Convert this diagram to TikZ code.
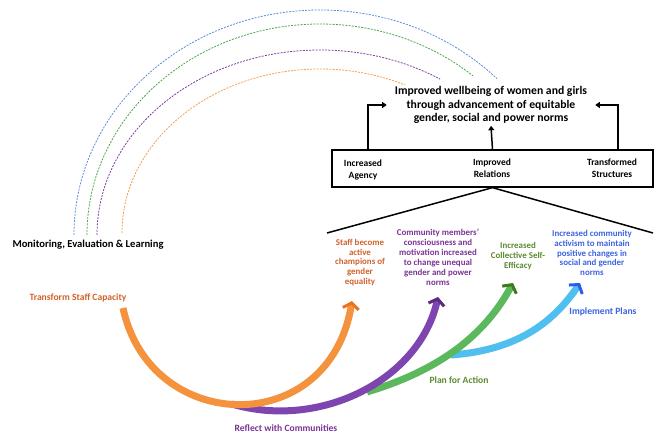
\documentclass[tikz,border=0pt]{standalone}
\usepackage{fontspec}
\setmainfont{Carlito}
\usetikzlibrary{arrows.meta}
\definecolor{orL}{HTML}{F5923E}
\definecolor{orD}{HTML}{E8741E}
\definecolor{orT}{HTML}{D0622A}
\definecolor{puL}{HTML}{7E45B0}
\definecolor{puD}{HTML}{5A2A7E}
\definecolor{puT}{HTML}{7A3394}
\definecolor{grL}{HTML}{5CB85C}
\definecolor{grD}{HTML}{3D7A1C}
\definecolor{grT}{HTML}{5A8A2E}
\definecolor{blL}{HTML}{4FBFF0}
\definecolor{blD}{HTML}{2A5CF0}
\definecolor{blT}{HTML}{3B62E0}
\definecolor{dBl}{HTML}{5B8FD9}
\definecolor{dGr}{HTML}{4CA64C}
\definecolor{dPu}{HTML}{7B3F9E}
\definecolor{dOr}{HTML}{F0A050}
\tikzset{
  dsh/.style={line width=0.8pt, dash pattern=on 2pt off 1.2pt},
  outc/.style={font=\fontsize{8.9}{9.9}\selectfont\bfseries, align=center, inner sep=1pt},
  lbl/.style={font=\fontsize{9.6}{11}\selectfont\bfseries, inner sep=1pt},
  boxt/.style={font=\fontsize{9.5}{12}\selectfont\bfseries, align=center, inner sep=1pt},
  blk/.style={line width=1.5pt, -{Triangle[length=4.5pt,width=6pt]}},
  thick arrow/.style={line width=7pt, line cap=butt},
  chev/.style={-{Straight Barb[length=6pt,width=16pt,line width=3pt,color=#1]}},
}
\begin{document}
\begin{tikzpicture}[x=1pt,y=-1pt]
\useasboundingbox (0,0) rectangle (657,433);

% dashed MEL arcs
\draw[dsh, dBl] (74,235) arc[start angle=180, end angle=316, x radius=246, y radius=225];
\draw[dsh, dGr] (87,235) arc[start angle=180, end angle=311, x radius=233, y radius=211];
\draw[dsh, dPu] (97,235) arc[start angle=180, end angle=302.6, x radius=223, y radius=185];
\draw[dsh, dOr] (122,233) arc[start angle=180, end angle=295.4, x radius=198, y radius=164];

\node[lbl, font=\fontsize{10.6}{12}\selectfont\bfseries] (mel) at (88,245) {Monitoring, Evaluation \& Learning};

% goal
\node[font=\fontsize{11.7}{13.5}\selectfont\bfseries, align=center, inner xsep=8pt, inner ysep=2pt] (goal) at (491,105)
  {Improved wellbeing of women and girls\\through advancement of equitable\\gender, social and power norms};

% domain box
\node[draw, line width=1.3pt, minimum width=321pt, minimum height=37pt, inner sep=0pt] (box) at (492.5,168.5) {};
\node[boxt] (agency) at (363,170) {Increased\\Agency};
\node[boxt] (relations) at (492,168) {Improved\\Relations};
\node[boxt] (structures) at (612,168) {Transformed\\Structures};

\draw[blk] ([xshift=-124.5pt]box.north) |- (goal.west);
\draw[blk] (box.north) -- (goal.south);
\draw[blk] ([xshift=125.5pt]box.north) |- (goal.east);

% roof
\coordinate (roofL) at (327,233);
\coordinate (roofR) at (653,233);
\draw[line width=1.5pt] (roofL) -- (box.south) -- (roofR);

% outcomes
\node[outc, text=orT] (staff) at (360,262.5) {Staff become\\active\\champions of\\gender\\equality};
\node[outc, text=puT] (comm) at (438,257.5) {Community members'\\consciousness and\\motivation increased\\to change unequal\\gender and power\\norms};
\node[outc, text=grT] (eff) at (518,256) {Increased\\Collective Self-\\Efficacy};
\node[outc, text=blT] (act) at (592,253) {Increased community\\activism to maintain\\positive changes in\\social and gender\\norms};

% step labels
\node[lbl, text=orT] (tsc) at (78,298) {Transform Staff Capacity};
\node[lbl, text=puT] (rwc) at (286,428) {Reflect with Communities};
\node[lbl, text=grT] (pfa) at (459,380) {Plan for Action};
\node[lbl, text=blT] (imp) at (603,312) {Implement Plans};

% thick arrows
\coordinate (oS) at (123,308);
\coordinate (oE) at (352,301);
\coordinate (pS) at (232,404);
\coordinate (pE) at (438,297);
\coordinate (gS) at (367,392);
\coordinate (gE) at (513,283);
\coordinate (bS) at (451,355);
\coordinate (bE) at (580,283);

\draw[thick arrow, blL, chev=blD]
  (bS) .. controls (520,350) and (555,320) .. (bE);
\draw[thick arrow, grL, chev=grD]
  (gS) .. controls (440,370) and (485,335) .. (gE);
\draw[thick arrow, puL, chev=puD]
  (pS) .. controls (320,430) and (420,380) .. (pE);
\draw[thick arrow, orL, chev=orD]
  (oS) .. controls (150,435) and (330,440) .. (oE);
\end{tikzpicture}
\end{document}
